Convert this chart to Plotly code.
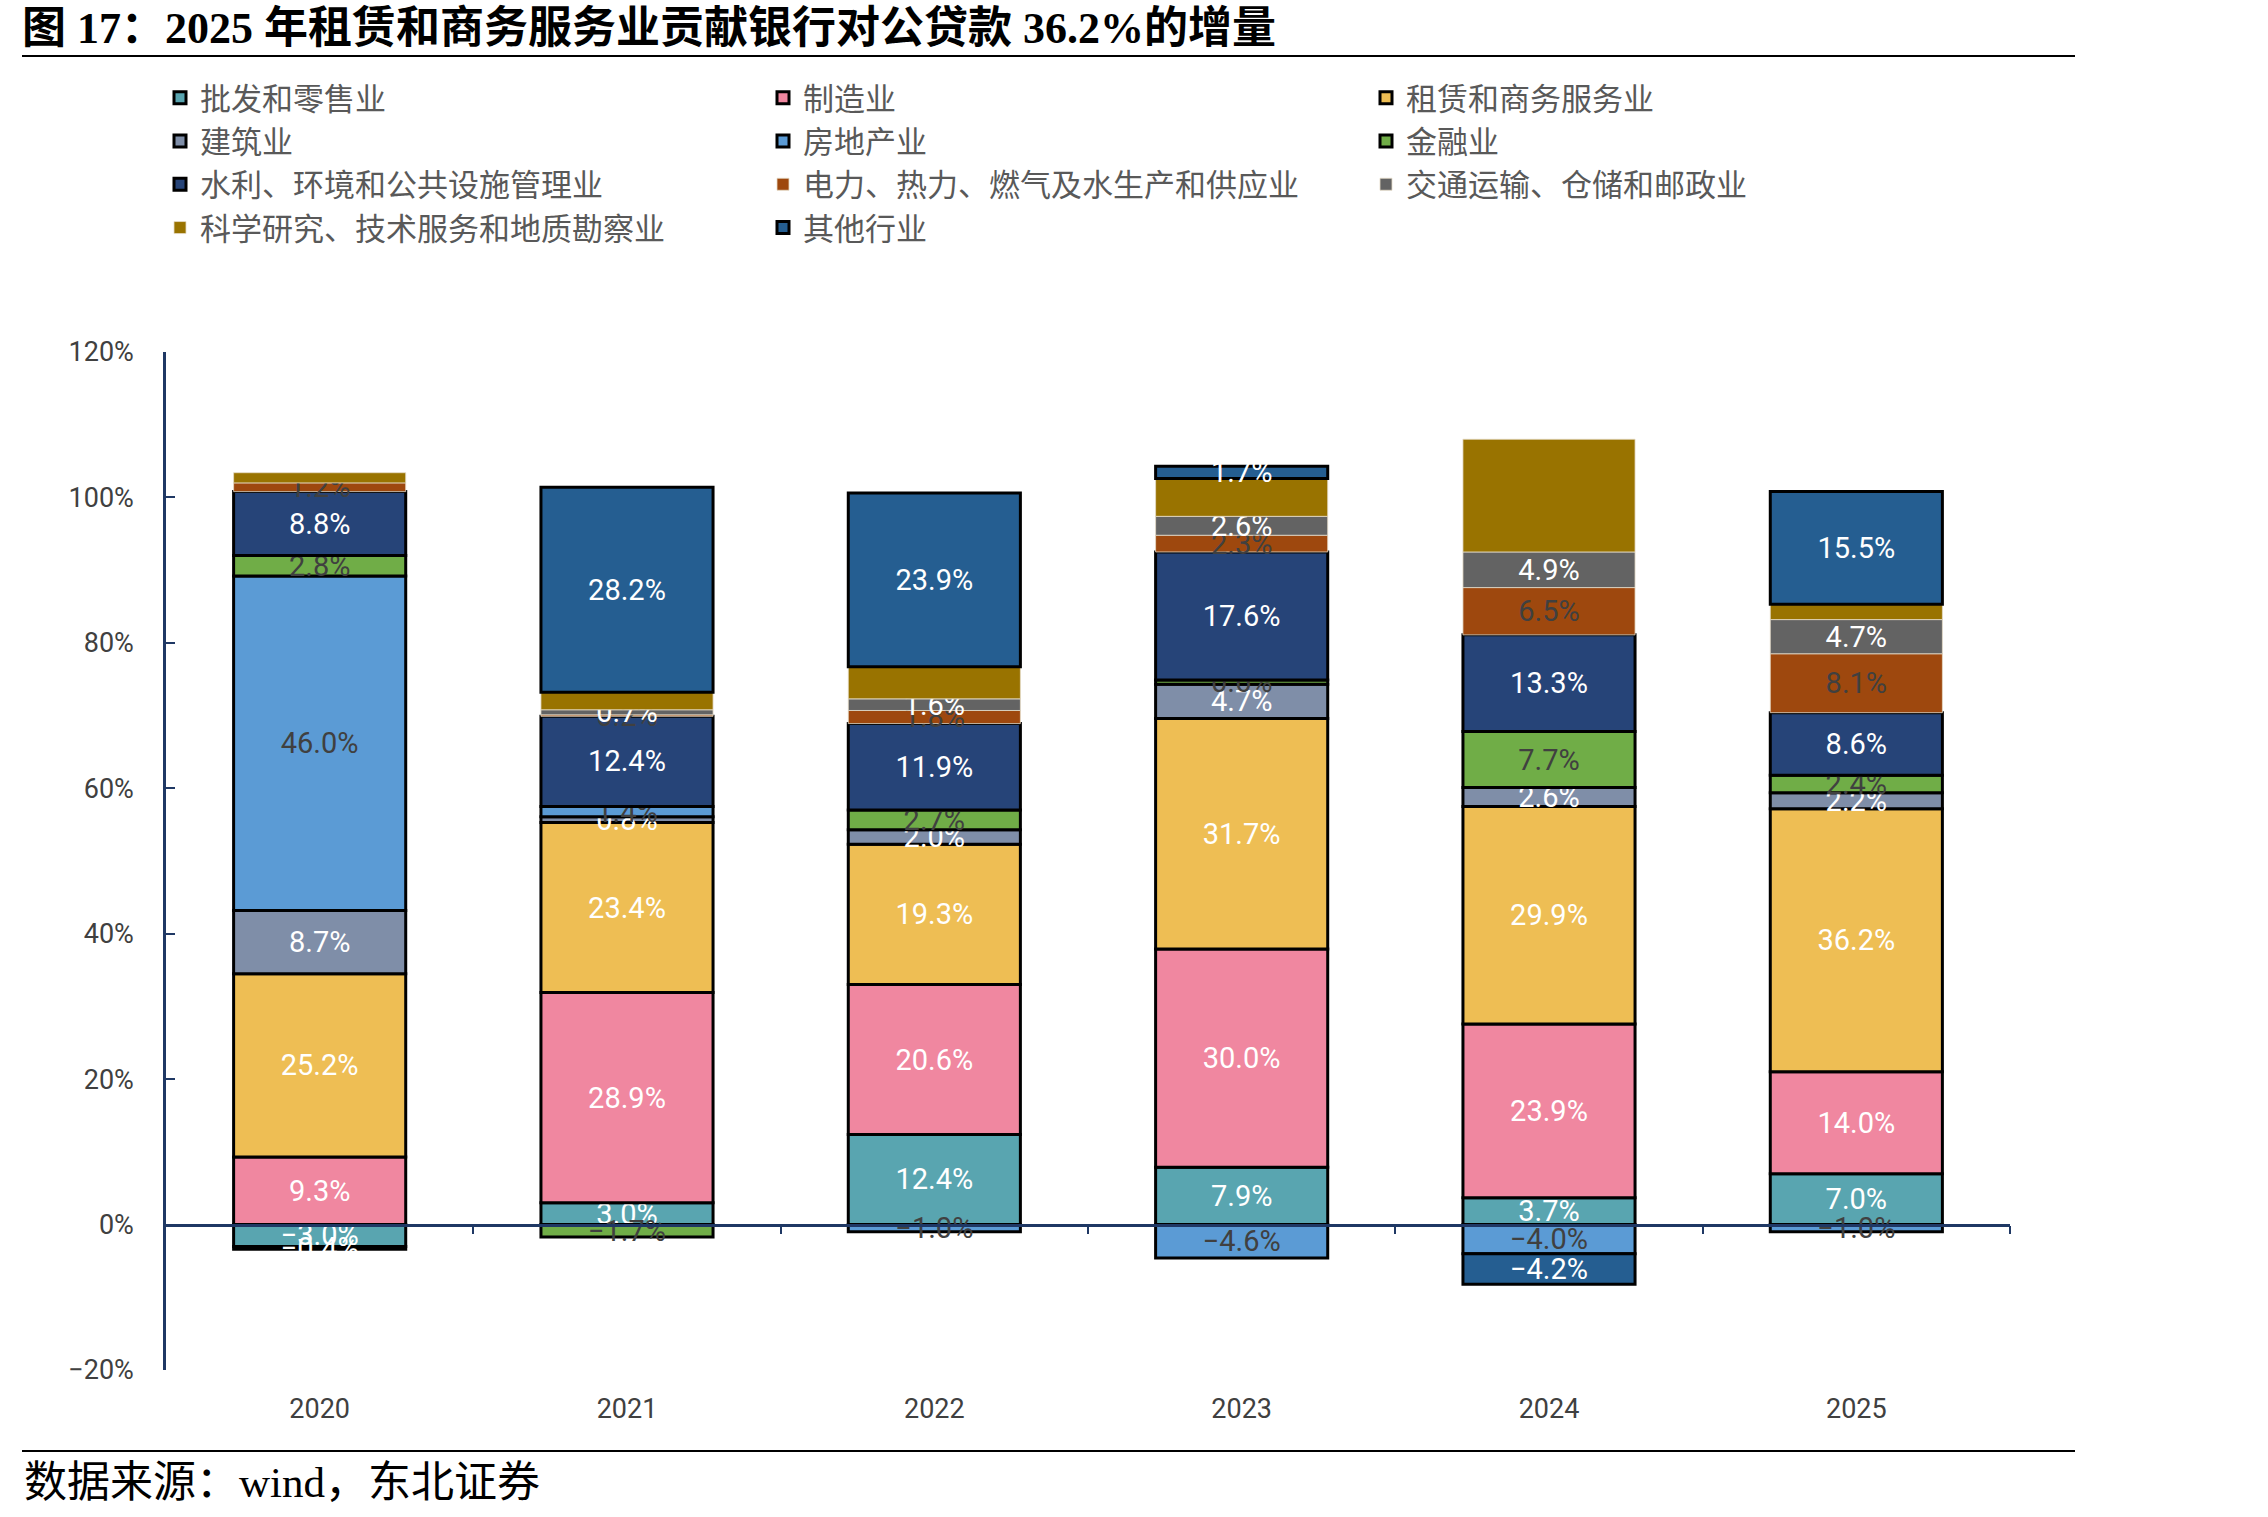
import plotly.graph_objects as go

years = ["2020", "2021", "2022", "2023", "2024", "2025"]

series_names = [
    "批发和零售业", "制造业", "租赁和商务服务业",
    "建筑业", "房地产业", "金融业",
    "水利、环境和公共设施管理业", "电力、热力、燃气及水生产和供应业", "交通运输、仓储和邮政业",
    "科学研究、技术服务和地质勘察业", "其他行业",
]

wholesale = [-3.0, 3.0, 12.4, 7.9, 3.7, 7.0]
manufacturing = [9.3, 28.9, 20.6, 30.0, 23.9, 14.0]
leasing = [25.2, 23.4, 19.3, 31.7, 29.9, 36.2]
construction = [8.7, 0.8, 2.0, 4.7, 2.6, 2.2]
real_estate = [46.0, 1.4, -1.0, -4.6, -4.0, -1.0]
finance = [2.8, -1.7, 2.7, 0.6, 7.7, 2.4]
water_env = [8.8, 12.4, 11.9, 17.6, 13.3, 8.6]
power = [1.2, 0.2, 1.8, 2.3, 6.5, 8.1]
transport = [None, 0.7, 1.6, 2.6, 4.9, 4.7]
science = [1.4, 2.4, 4.4, 5.2, 15.5, 2.1]
others = [-0.4, 28.2, 23.9, 1.7, -4.2, 15.5]

y_ticks = [-20, 0, 20, 40, 60, 80, 100, 120]
y_tick_text = ["−20%", "0%", "20%", "40%", "60%", "80%", "100%", "120%"]

values = [wholesale, manufacturing, leasing, construction, real_estate, finance,
          water_env, power, transport, science, others]
colors = ["#59A5B0", "#F087A0", "#EEBE54", "#7F8EA8", "#5B9BD5", "#70AD47",
          "#264478", "#9E480E", "#636363", "#997300", "#255E91"]
outlined = [True, True, True, True, True, True, True, False, False, False, True]
label_colors = ["white", "white", "white", "white", "#404040", "#404040",
                "white", "#404040", "white", None, "white"]

LABEL_FONT = "Roboto, Noto Sans CJK SC"

fig = go.Figure()
for name, vals, col, ol, lc in zip(series_names, values, colors, outlined, label_colors):
    txt = [("" if (v is None or lc is None) else f"{v:.1f}%".replace("-", "−")) for v in vals]
    fnt = dict(color=lc or "white", size=29, family=LABEL_FONT)
    fig.add_trace(go.Bar(
        name=name, x=years, y=vals,
        marker=dict(color=col,
                    line=dict(color="black" if ol else "rgba(230,220,200,0.8)",
                              width=3 if ol else 1)),
        width=0.56,
        text=txt, textposition="inside", insidetextanchor="middle",
        textangle=0, constraintext="none",
        textfont=fnt, insidetextfont=fnt,
        hoverinfo="x+y+name",
    ))

W, H = 2268, 1517
L, R, T, B = 166, 258, 352, 147
pw, ph = W - L - R, H - T - B

def px(x):
    return (x - L) / pw

def py(y):
    return (H - B - y) / ph

fig.update_layout(
    width=W, height=H,
    barmode="relative",
    plot_bgcolor="white", paper_bgcolor="white",
    margin=dict(l=L, r=R, t=T, b=B),
    uniformtext=dict(minsize=29, mode="show"),
    title=dict(
        text="<b>图 17：2025 年租赁和商务服务业贡献银行对公贷款 36.2%的增量</b>",
        xref="container", yref="container", x=22 / W, y=1 - 28 / H,
        xanchor="left", yanchor="middle",
        font=dict(size=44, color="black",
                  family="Liberation Serif, Noto Sans CJK SC"),
    ),
    legend=dict(
        orientation="h", xref="container", yref="container",
        x=160 / W, y=1 - 71 / H, xanchor="left", yanchor="top",
        entrywidth=558, entrywidthmode="pixels",
        font=dict(size=31, color="#595959", family="Noto Sans CJK SC"),
        traceorder="normal", itemclick=False,
    ),
    xaxis=dict(
        type="category", range=[-0.5, 5.5],
        showline=False, ticks="", showgrid=False,
        ticklabelstandoff=20,
        tickfont=dict(size=27, color="#404040", family=LABEL_FONT),
    ),
    xaxis2=dict(
        overlaying="x", anchor="free", position=20 / 140,
        range=[-0.5, 5.5], showline=True, linecolor="#1F3864", linewidth=2.5,
        ticks="outside", ticklen=8, tickwidth=1.5, tickcolor="#1F3864",
        tickvals=[0.5, 1.5, 2.5, 3.5, 4.5, 5.5], showticklabels=False,
        showgrid=False, zeroline=False,
    ),
    yaxis=dict(
        range=[-20, 120], tickvals=y_ticks, ticktext=y_tick_text,
        showline=True, linecolor="#1F3864", linewidth=2.5,
        ticks="inside", ticklen=9, tickwidth=1.5, tickcolor="#1F3864",
        showgrid=False, zeroline=False, ticklabelstandoff=24,
        tickfont=dict(size=27, color="#404040", family=LABEL_FONT),
    ),
    shapes=[
        dict(type="line", xref="paper", yref="paper",
             x0=px(22), x1=px(2075), y0=py(56), y1=py(56),
             line=dict(color="black", width=2)),
        dict(type="line", xref="paper", yref="paper",
             x0=px(22), x1=px(2075), y0=py(1451), y1=py(1451),
             line=dict(color="black", width=2)),
    ],
    annotations=[
        dict(text="数据来源：wind，东北证券", xref="paper", yref="paper",
             x=px(22), y=py(1482), xanchor="left", yanchor="middle",
             showarrow=False,
             font=dict(size=43, color="black",
                       family="Liberation Serif, Noto Sans CJK SC")),
    ],
)

# invisible helper trace so the zero-line axis (xaxis2) is drawn
fig.add_trace(go.Scatter(x=[0], y=[0], xaxis="x2", mode="markers",
                         marker=dict(opacity=0), showlegend=False, hoverinfo="skip"))

fig.write_html("out.html")
